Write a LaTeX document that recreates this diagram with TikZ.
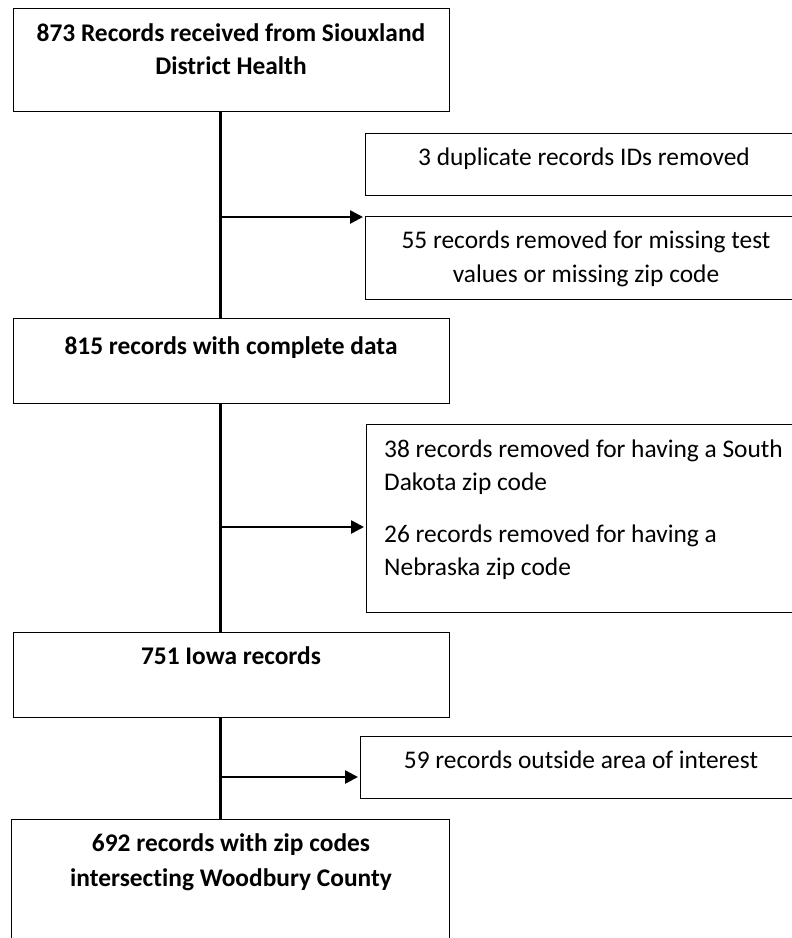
\documentclass[tikz,border=0pt]{standalone}
\usepackage{fontspec}
\setmainfont{Carlito}[Ligatures={NoCommon}]
\usetikzlibrary{arrows.meta}
\tikzset{
  box/.style={draw=black, line width=1.4pt, fill=white, rectangle, inner sep=0pt, anchor=north west},
  conn/.style={draw=black, line width=3pt},
  arr/.style={draw=black, line width=2.6pt, -{Triangle[length=13pt,width=13pt]}, shorten >=2pt},
  txt/.style={inner sep=0pt, anchor=base, font=\fontsize{25.4}{33}\selectfont},
  btxt/.style={inner sep=0pt, anchor=base, font=\fontsize{25.4}{33}\selectfont\bfseries},
}
\begin{document}
\begin{tikzpicture}[x=1pt,y=-1pt]
\clip (0,0) rectangle (792,938);
\fill[white] (0,0) rectangle (792,938);
% boxes
\node[box, minimum width=436pt, minimum height=103pt] (b1) at (13,8) {};
\node[box, minimum width=438pt, minimum height=62pt] (r1) at (365,133) {};
\node[box, minimum width=438pt, minimum height=83pt] (r2) at (365,216) {};
\node[box, minimum width=436pt, minimum height=85pt] (b2) at (13,318) {};
\node[box, minimum width=437pt, minimum height=188pt] (r3) at (366,424) {};
\node[box, minimum width=436pt, minimum height=85pt] (b3) at (13,632) {};
\node[box, minimum width=443pt, minimum height=62pt] (r4) at (360,736) {};
\node[box, minimum width=438pt, minimum height=140pt] (b4) at (11,819) {};
% texts
\node[btxt] (t1a) at (231,41) {873 Records received from Siouxland};
\node[btxt] (t1b) at (231,74) {District Health};
\node[txt] (tr1) at (584,165) {3 duplicate records IDs removed};
\node[txt] (tr2a) at (586,248) {55 records removed for missing test};
\node[txt] (tr2b) at (586,282) {values or missing zip code};
\node[btxt] (t2) at (231,354) {815 records with complete data};
\node[txt, anchor=base west] (tr3a) at (384,457) {38 records removed for having a South};
\node[txt, anchor=base west] (tr3b) at (384,490) {Dakota zip code};
\node[txt, anchor=base west] (tr3c) at (384,542) {26 records removed for having a};
\node[txt, anchor=base west] (tr3d) at (384,575) {Nebraska zip code};
\node[btxt] (t3) at (231,664) {751 Iowa records};
\node[txt] (tr4) at (581,768) {59 records outside area of interest};
\node[btxt] (t4a) at (231,851) {692 records with zip codes};
\node[btxt] (t4b) at (231,886) {intersecting Woodbury County};
% connectors
\coordinate (tx) at (220,0);
\coordinate (j1) at (220,217);
\coordinate (j2) at (220,527);
\coordinate (j3) at (220,777);
\draw[conn] (b1.south -| tx) -- (b2.north -| tx);
\draw[conn] (b2.south -| tx) -- (b3.north -| tx);
\draw[conn] (b3.south -| tx) -- (b4.north -| tx);
\draw[arr] (j1) -- (j1 -| r2.west);
\draw[arr] (j2) -- (j2 -| r3.west);
\draw[arr] (j3) -- (j3 -| r4.west);
\end{tikzpicture}
\end{document}
